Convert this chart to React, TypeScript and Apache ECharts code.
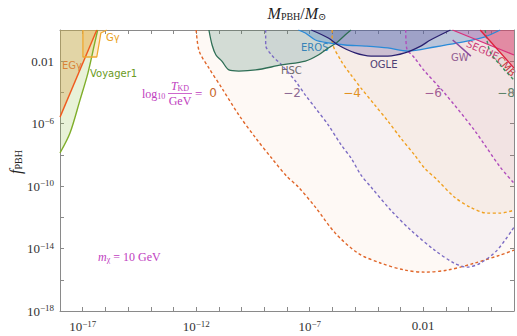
import React, { useEffect, useRef } from 'react';
import * as echarts from 'echarts';

// axis tick labels (log10 values)
const xLabeledTicks = [-17, -12, -7, -2];
const yLabeledTicks = [-2, -6, -10, -14, -18];

// dashed T_KD curves: [log10 M, log10 f]
const tkd0 = [[-12.0, 0], [-11.87, -1.35], [-11.44, -2.44], [-10.87, -3.72], [-10.12, -5.45], [-9.38, -6.92], [-8.68, -8.2], [-8.02, -9.36], [-7.5, -10.06], [-6.75, -11.35], [-5.88, -13.0], [-4.87, -14.3], [-3.86, -14.94], [-2.81, -15.38], [-1.94, -15.51], [-0.93, -15.38], [0.25, -14.94], [1.39, -14.42], [2.0, -14.1]];
const tkdM2 = [[-8.94, 0], [-8.94, -0.96], [-8.68, -1.6], [-8.24, -2.24], [-7.63, -3.27], [-7.19, -4.17], [-6.75, -5.0], [-6.18, -6.09], [-5.61, -7.37], [-5.18, -8.2], [-4.74, -9.29], [-4.3, -10.06], [-3.43, -11.54], [-2.55, -12.82], [-1.5, -14.1], [-0.63, -14.94], [-0.06, -15.19], [0.51, -14.94], [1.26, -14.1], [2.0, -12.63]];
const tkdM4 = [[-6.01, 0], [-6.01, -0.7], [-5.61, -1.99], [-5.18, -2.88], [-4.74, -3.72], [-4.13, -4.81], [-3.56, -5.83], [-2.99, -6.92], [-2.38, -8.01], [-1.94, -8.85], [-1.37, -9.62], [-0.63, -10.7], [0.07, -11.35], [0.82, -11.73], [1.39, -11.73], [2.0, -11.54]];
const tkdM6 = [[-2.77, 0], [-2.73, -1.15], [-2.38, -1.79], [-1.94, -2.63], [-1.06, -4.04], [0.25, -6.41], [1.39, -8.78], [2.0, -9.81]];
const tkdM8 = [[0.73, 0], [0.95, -1.41], [1.47, -2.37], [2.0, -3.21]];

// observational constraints
const egGamma = [[-18, -5.58], [-16.38, 0]];
const voyager1 = [[-18, -7.88], [-17.56, -6.6], [-17.12, -4.49], [-16.77, -2.76], [-16.47, -0.83], [-16.34, 0]];
const gGamma = [[-16.99, 0], [-16.99, -1.73], [-16.38, -1.73], [-16.25, -0.64], [-16.2, -0.19], [-15.94, 0]];
const hsc = [[-11.44, 0], [-11.3, -0.96], [-11.13, -1.6], [-10.87, -1.99], [-10.56, -2.56], [-10.12, -2.63], [-9.38, -2.56], [-8.24, -2.24], [-7.19, -1.99], [-6.62, -1.6], [-6.18, -1.15], [-5.83, -0.83], [-5.44, -0.32], [-5.18, 0]];
const eros = [[-7.5, 0], [-7.19, -0.19], [-6.75, -0.64], [-6.18, -0.83], [-5.44, -0.96], [-4.56, -1.03], [-3.56, -1.15], [-2.68, -1.35], [-1.5, -1.09], [-0.49, -0.83], [0.69, -0.45], [1.39, 0]];
const ogle = [[-6.93, 0], [-6.18, -0.51], [-5.75, -0.96], [-5.0, -1.47], [-4.3, -1.67], [-3.56, -1.67], [-2.81, -1.47], [-2.11, -1.03], [-1.68, -0.64], [-0.8, 0]];
const gw = [[-0.7, -0.64], [0.1, -1.67]];
const segue = [[-0.71, 0], [2.0, -1.6]];
const cmb = [[0.51, 0], [2.0, -2.44]];

const serif = '"Liberation Serif", "DejaVu Serif", serif';
const sans = '"DejaVu Sans", "Noto Sans", sans-serif';
const magenta = '#c040c0';

function powLabel(v: number): string {
  if (v === -2) return '0.01';
  return '10{sup|\u2212' + Math.abs(v) + '}';
}

function curve(data: number[][], color: string, fill: string | null, dashed: boolean, width = 1.3, smooth: number | boolean = false) {
  const s: any = {
    type: 'line',
    data,
    symbol: 'none',
    showSymbol: false,
    silent: true,
    smooth,
    lineStyle: { color, width, type: dashed ? [3, 2.5] : 'solid' },
  };
  if (fill) s.areaStyle = { color: fill, origin: 'end', opacity: 1 };
  return s;
}

export default function App() {
  const ref = useRef<HTMLDivElement>(null);
  useEffect(() => {
    if (!ref.current) return;
    const chart = echarts.init(ref.current, null, { renderer: 'svg' });
    const axisCommon = {
      type: 'value',
      axisLine: { show: true, onZero: false, lineStyle: { color: '#8a8a8a', width: 1 } },
      axisTick: { show: true, inside: true, length: 4, lineStyle: { color: '#8a8a8a' } },
      splitLine: { show: false },
    };
    const richSup = {
      sup: { fontSize: 9, fontFamily: serif, color: '#333', verticalAlign: 'top', padding: [0, 0, 6, 0] },
    };
    const subRich = (size: number) => ({ fontFamily: serif, fontSize: size, fill: magenta, verticalAlign: 'bottom', padding: [5, 0, 0, 0] });
    const option: any = {
      animation: false,
      grid: { left: 60, right: 1, top: 30, bottom: 25, containLabel: false },
      xAxis: [
        {
          ...axisCommon, position: 'bottom', min: -18, max: 2, interval: 1,
          axisLabel: {
            margin: 8, fontFamily: serif, fontSize: 13, color: '#333',
            formatter: (v: number) => (xLabeledTicks.includes(v) ? powLabel(v) : ''),
            rich: richSup,
          },
        },
        { ...axisCommon, position: 'top', min: -18, max: 2, interval: 1, axisLabel: { show: false } },
      ],
      yAxis: [
        {
          ...axisCommon, position: 'left', min: -18, max: 0, interval: 2,
          axisLabel: {
            margin: 6, fontFamily: serif, fontSize: 13, color: '#333',
            formatter: (v: number) => (yLabeledTicks.includes(v) ? powLabel(v) : ''),
            rich: richSup,
          },
        },
        { ...axisCommon, position: 'right', min: -18, max: 0, interval: 2, axisLabel: { show: false } },
      ],
      series: [
        curve(tkd0, '#e0662a', 'rgba(235,130,60,0.05)', true, 1.4, 0.3),
        curve(tkdM2, '#7c6cc4', 'rgba(120,95,200,0.05)', true, 1.4, 0.3),
        curve(tkdM4, '#f0a020', 'rgba(240,160,40,0.05)', true, 1.4, 0.3),
        curve(tkdM6, '#b04cbc', 'rgba(180,60,150,0.05)', true, 1.4, 0.3),
        curve(tkdM8, '#3f8f63', 'rgba(60,140,90,0.05)', true, 1.4, 0.3),
        curve(voyager1, '#7fae2a', 'rgba(140,190,60,0.2)', false, 1.4, 0.3),
        curve(egGamma, '#f05a1e', 'rgba(215,165,85,0.38)', false, 1.4),
        curve(gGamma, '#f0a830', 'rgba(250,190,80,0.3)', false, 1.3),
        curve(hsc, '#2e6e55', 'rgba(60,120,100,0.22)', false, 1.3, 0.3),
        curve(eros, '#2a8ad8', 'rgba(60,130,200,0.3)', false, 1.3, 0.3),
        curve(ogle, '#2a2070', 'rgba(80,60,150,0.26)', false, 1.3, 0.3),
        curve(segue, '#d8307a', 'rgba(200,60,150,0.25)', false, 1.3),
        curve(cmb, '#e0203a', 'rgba(230,60,90,0.35)', false, 1.3),
        curve(gw, '#8a4aa0', null, false, 1.5),
      ],
      graphic: [
        {
          type: 'text', x: 297, y: 13,
          style: {
            text: '{i|M}{s|PBH}{n|/}{i|M}{s|\u2299}',
            align: 'center', verticalAlign: 'middle',
            rich: {
              i: { fontFamily: serif, fontStyle: 'italic', fontSize: 16, fill: '#222' },
              n: { fontFamily: serif, fontSize: 16, fill: '#222' },
              s: { fontFamily: serif, fontSize: 10, fill: '#222', verticalAlign: 'bottom', padding: [6, 0, 0, 0] },
            },
          },
        },
        {
          type: 'text', x: 15, y: 162, rotation: Math.PI / 2,
          style: {
            text: '{i|f}{s|PBH}',
            align: 'center', verticalAlign: 'middle',
            rich: {
              i: { fontFamily: serif, fontStyle: 'italic', fontSize: 16, fill: '#222' },
              s: { fontFamily: serif, fontSize: 10, fill: '#222', verticalAlign: 'bottom', padding: [6, 0, 0, 0] },
            },
          },
        },
        { type: 'text', x: 106, y: 37, style: { text: 'G\u03b3', fontFamily: sans, fontSize: 10, fill: '#e8a020', verticalAlign: 'middle' } },
        { type: 'text', x: 62, y: 65, style: { text: 'EG\u03b3', fontFamily: sans, fontSize: 10, fill: '#f05a1e', verticalAlign: 'middle' } },
        { type: 'text', x: 90, y: 73, style: { text: 'Voyager1', fontFamily: sans, fontSize: 10, fill: '#6a9a22', verticalAlign: 'middle' } },
        { type: 'text', x: 281, y: 70, style: { text: 'HSC', fontFamily: sans, fontSize: 10, fill: '#6a6a6a', verticalAlign: 'middle' } },
        { type: 'text', x: 301, y: 47, style: { text: 'EROS', fontFamily: sans, fontSize: 10, fill: '#2a8ad8', verticalAlign: 'middle' } },
        { type: 'text', x: 370, y: 64, style: { text: 'OGLE', fontFamily: sans, fontSize: 10, fill: '#3a3478', verticalAlign: 'middle' } },
        { type: 'text', x: 451, y: 57, style: { text: 'GW', fontFamily: sans, fontSize: 10, fill: '#8a5a9a', verticalAlign: 'middle' } },
        { type: 'text', x: 467, y: 43, rotation: -0.42, style: { text: 'SEGUE', fontFamily: sans, fontSize: 10, fill: '#d0307a', verticalAlign: 'middle' } },
        { type: 'text', x: 499, y: 58, rotation: -0.85, style: { text: 'CMB', fontFamily: sans, fontSize: 10, fill: '#d82030', verticalAlign: 'middle' } },
        { type: 'text', x: 213, y: 93, style: { text: '0', fontFamily: sans, fontSize: 12, fill: '#c8692e', align: 'center', verticalAlign: 'middle' } },
        { type: 'text', x: 292, y: 93, style: { text: '\u22122', fontFamily: sans, fontSize: 12, fill: '#8a6a9a', align: 'center', verticalAlign: 'middle' } },
        { type: 'text', x: 352, y: 93, style: { text: '\u22124', fontFamily: sans, fontSize: 12, fill: '#e8961a', align: 'center', verticalAlign: 'middle' } },
        { type: 'text', x: 433, y: 93, style: { text: '\u22126', fontFamily: sans, fontSize: 12, fill: '#a05aa0', align: 'center', verticalAlign: 'middle' } },
        { type: 'text', x: 515, y: 93, style: { text: '\u22128', fontFamily: sans, fontSize: 12, fill: '#4a8a6a', align: 'right', verticalAlign: 'middle' } },
        {
          type: 'text', x: 142, y: 94,
          style: {
            text: '{n|log}{s|10}', verticalAlign: 'middle',
            rich: {
              n: { fontFamily: serif, fontSize: 12, fill: magenta },
              s: subRich(8),
            },
          },
        },
        {
          type: 'text', x: 180, y: 86,
          style: {
            text: '{i|T}{s|KD}', align: 'center', verticalAlign: 'middle',
            rich: {
              i: { fontFamily: serif, fontStyle: 'italic', fontSize: 12, fill: magenta },
              s: subRich(8),
            },
          },
        },
        { type: 'line', shape: { x1: 168, y1: 93.5, x2: 192, y2: 93.5 }, style: { stroke: magenta, lineWidth: 0.8 } },
        { type: 'text', x: 180, y: 101, style: { text: 'GeV', fontFamily: serif, fontSize: 12, fill: magenta, align: 'center', verticalAlign: 'middle' } },
        { type: 'text', x: 195, y: 93, style: { text: '=', fontFamily: serif, fontSize: 13, fill: magenta, verticalAlign: 'middle' } },
        {
          type: 'text', x: 98, y: 257,
          style: {
            text: '{i|m}{s|\u03c7}{n| = 10 GeV}', verticalAlign: 'middle',
            rich: {
              i: { fontFamily: serif, fontStyle: 'italic', fontSize: 12, fill: magenta },
              n: { fontFamily: serif, fontSize: 12, fill: magenta },
              s: subRich(8),
            },
          },
        },
      ],
    };
    chart.setOption(option);
    return () => chart.dispose();
  }, []);
  return <div ref={ref} style={{ position: 'absolute', left: 0, top: 0, width: 517, height: 336 }} />;
}
